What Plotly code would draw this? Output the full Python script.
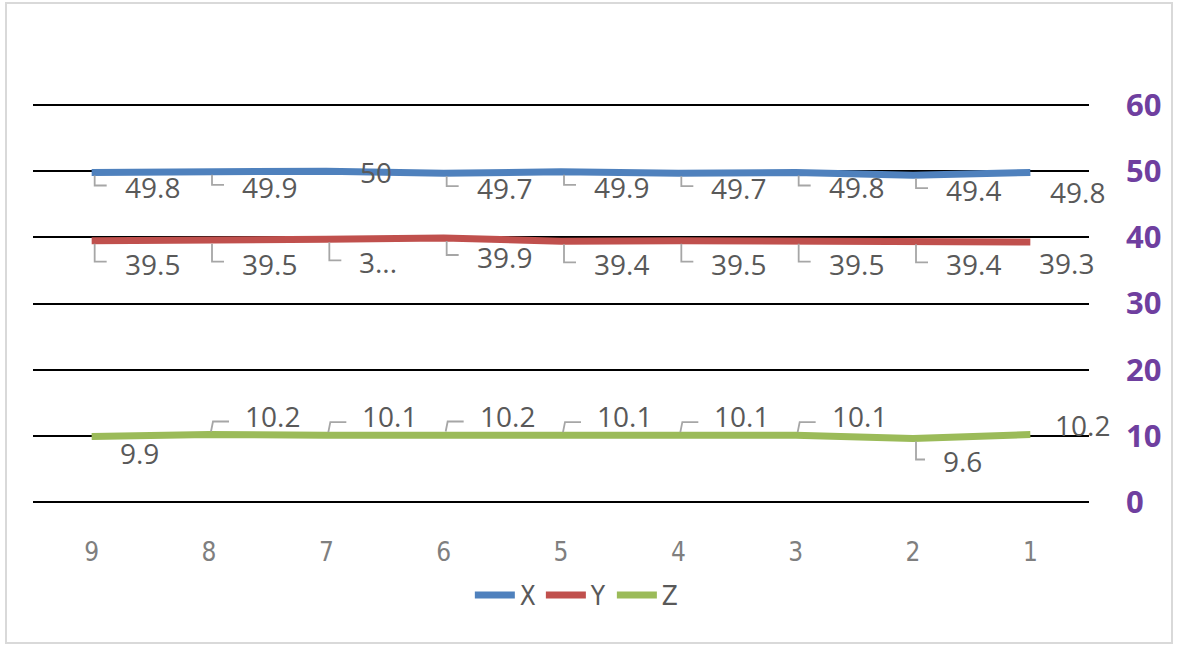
import plotly.graph_objects as go

# ---- data -------------------------------------------------------------
categories = ["9", "8", "7", "6", "5", "4", "3", "2", "1"]
x_vals = [49.8, 49.9, 50, 49.7, 49.9, 49.7, 49.8, 49.4, 49.8]
y_vals = [39.5, 39.5, 39.7, 39.9, 39.4, 39.5, 39.5, 39.4, 39.3]
z_vals = [9.9, 10.2, 10.1, 10.2, 10.1, 10.1, 10.1, 9.6, 10.2]
y_tick_vals = [0, 10, 20, 30, 40, 50, 60]

series_names = ["X", "Y", "Z"]
series_values = [x_vals, y_vals, z_vals]
series_colors = ["#4F81BD", "#C0504D", "#9BBB59"]

# ---- data label placement (pixel offsets from the point) ---------------
# (dx to left edge of text, dy to text centre [+ = down], draw leader line)
n = len(categories)
label_pos = {
    "X": [(31, 15, True)] * n,
    "Y": [(31, 23, True)] * n,
    "Z": [(34, -19, True)] * n,
}
label_pos["X"][2] = (32, 1, False)
label_pos["X"][8] = (18, 20, False)
label_pos["Y"][3] = (31, 19, True)
label_pos["Y"][8] = (7, 21, False)
label_pos["Z"][0] = (26, 16, False)
label_pos["Z"][7] = (28, 23, True)
label_pos["Z"][8] = (23, -10, False)
label_text_override = {("Y", 2): "3..."}

LABEL_FONT = dict(family="Open Sans, sans-serif", size=28, color="#595959")
LEADER_COLOR = "#A6A6A6"
AXIS_FONT = "DejaVu Sans Condensed, Liberation Sans Narrow, Arial Narrow, sans-serif"

xs = list(range(n))

fig = go.Figure()
for name, vals, color in zip(series_names, series_values, series_colors):
    fig.add_trace(go.Scatter(
        x=xs, y=vals, name=name, mode="lines",
        line=dict(color=color, width=7),
        hoverinfo="skip",
    ))

annotations = []
shapes = []
for name, vals in zip(series_names, series_values):
    for i, v in enumerate(vals):
        dx, dy, leader = label_pos[name][i]
        text = label_text_override.get((name, i), f"{v:g}")
        annotations.append(dict(
            x=i, y=v, xref="x", yref="y", text=text, showarrow=False,
            xanchor="left", yanchor="middle", xshift=dx, yshift=-dy,
            font=LABEL_FONT,
        ))
        if leader:
            if dy > 0:
                hy = dy - 2
                path = f"M 3,-3 L 3,-{hy} L {dx - 16},-{hy}"
            else:
                hy = -dy - 6
                path = f"M 2,3 L 4,{hy} L {dx - 14},{hy}"
            shapes.append(dict(
                type="path", xref="x", yref="y",
                xsizemode="pixel", ysizemode="pixel",
                xanchor=i, yanchor=v, path=path,
                line=dict(color=LEADER_COLOR, width=1.8),
                layer="above",
            ))

# light frame around the whole chart
W, H = 1178, 646
ml, mr, mt, mb = 33, 89, 103, 142
pw, ph = W - ml - mr, H - mt - mb
def px_to_paper_x(p):
    return (p - ml) / pw
def px_to_paper_y(p):
    return (H - mb - p) / ph
shapes.append(dict(
    type="rect", xref="paper", yref="paper",
    x0=px_to_paper_x(6), x1=px_to_paper_x(1172),
    y0=px_to_paper_y(643), y1=px_to_paper_y(3),
    line=dict(color="#D9D9D9", width=2), fillcolor="rgba(0,0,0,0)",
    layer="below",
))

fig.update_layout(
    width=W, height=H,
    margin=dict(l=ml, r=mr, t=mt, b=mb, autoexpand=False),
    paper_bgcolor="white", plot_bgcolor="white",
    showlegend=True,
    legend=dict(
        orientation="h", x=0.515, xanchor="center",
        yref="container", y=1 - 595 / H, yanchor="middle",
        font=dict(family=AXIS_FONT, size=26, color="#595959"),
        itemwidth=40, tracegroupgap=0, itemclick=False,
    ),
    xaxis=dict(
        range=[-0.5, n - 0.5], tickmode="array", tickvals=xs, ticktext=categories,
        showgrid=False, zeroline=False, showline=False, ticks="",
        tickfont=dict(family=AXIS_FONT, size=26, color="#7F7F7F"),
        ticklabelstandoff=30,
    ),
    yaxis=dict(
        side="right", range=[-0.3, 60.3], tickmode="array", tickvals=y_tick_vals,
        showgrid=True, gridcolor="#000000", gridwidth=2,
        zeroline=False, showline=False, ticks="",
        tickfont=dict(family="Open Sans, sans-serif", size=31, color="#6F3F9F",
                      weight="bold"),
        ticklabelstandoff=36,
    ),
    annotations=annotations,
    shapes=shapes,
)

fig.write_html("out.html")
